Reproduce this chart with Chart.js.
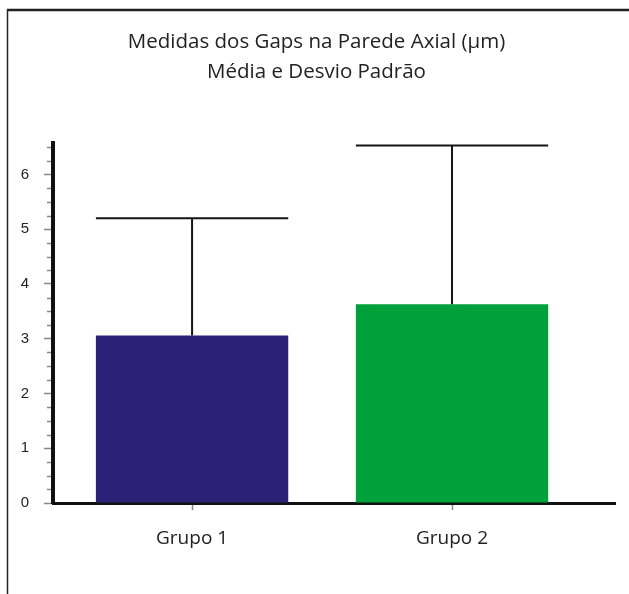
<!DOCTYPE html>
<html>
<head>
<meta charset="utf-8">
<script src="https://cdn.jsdelivr.net/npm/chart.js@4"></script>
<style>
  body { margin: 0; background: #fff; }
  canvas { display: block; }
</style>
</head>
<body>
<canvas id="chart" width="629" height="594"></canvas>
<script>
const groups = ['Grupo 1', 'Grupo 2'];
const means = [3.06, 3.63];
const sds = [2.14, 2.90];
const yTicks = [0, 1, 2, 3, 4, 5, 6];
const barColors = ['#2B2277', '#00A03A'];
const titleLines = ['Medidas dos Gaps na Parede Axial (µm)', 'Média e Desvio Padrão'];

// frame round the figure (top + left edge only, as in the scan)
const framePlugin = {
    id: 'frame',
    beforeDraw(chart) {
        const ctx = chart.ctx;
        ctx.save();
        ctx.strokeStyle = '#222';
        ctx.lineWidth = 2.5;
        ctx.beginPath();
        ctx.moveTo(7, 10);
        ctx.lineTo(629, 10);
        ctx.stroke();
        ctx.lineWidth = 1.5;
        ctx.beginPath();
        ctx.moveTo(7.5, 10);
        ctx.lineTo(7.5, 594);
        ctx.stroke();
        ctx.restore();
    }
};

// minor ticks on the y axis, every 0.25
const minorTicks = {
    id: 'minorTicks',
    afterDraw(chart) {
        const y = chart.scales.y;
        const left = chart.chartArea.left;
        const ctx = chart.ctx;
        ctx.save();
        ctx.strokeStyle = '#888';
        ctx.lineWidth = 1.5;
        yTicks.forEach(t => {
            for (let k = 1; k < 4; k++) {
                const v = t + k / 4;
                if (v > y.max) continue;
                const py = Math.round(y.getPixelForValue(v)) + 0.5;
                ctx.beginPath();
                ctx.moveTo(left - 6, py);
                ctx.lineTo(left - 2, py);
                ctx.stroke();
            }
        });
        ctx.restore();
    }
};

// upper error bars (mean + SD)
const errorBars = {
    id: 'errorBars',
    afterDatasetsDraw(chart) {
        const ctx = chart.ctx;
        const y = chart.scales.y;
        const meta = chart.getDatasetMeta(0);
        ctx.save();
        ctx.strokeStyle = '#151515';
        ctx.lineWidth = 2;
        meta.data.forEach((bar, i) => {
            const top = y.getPixelForValue(means[i] + sds[i]);
            const half = bar.width / 2;
            ctx.beginPath();
            ctx.moveTo(bar.x, bar.y);
            ctx.lineTo(bar.x, top);
            ctx.moveTo(bar.x - half, top);
            ctx.lineTo(bar.x + half, top);
            ctx.stroke();
        });
        ctx.restore();
    }
};

new Chart(document.getElementById('chart'), {
    type: 'bar',
    data: {
        datasets: [{
            data: groups.map((g, i) => ({ x: i + 1, y: means[i] })),
            backgroundColor: barColors,
            borderWidth: 0,
            categoryPercentage: 1,
            barPercentage: 0.74
        }]
    },
    options: {
        responsive: false,
        animation: false,
        layout: { padding: { left: 18, right: 14, top: 0, bottom: 0 } },
        plugins: {
            legend: { display: false },
            tooltip: { enabled: false },
            title: {
                display: true,
                text: titleLines,
                color: '#222',
                font: { family: 'Open Sans', size: 20.5, weight: 'normal', lineHeight: 1.42 },
                padding: { top: 28, bottom: 57 }
            }
        },
        scales: {
            x: {
                type: 'linear',
                offset: false,
                min: 0.465,
                max: 2.627,
                afterBuildTicks: (scale) => { scale.ticks = groups.map((g, i) => ({ value: i + 1 })); },
                afterFit: (scale) => { scale.height = 91; },
                ticks: {
                    callback: (v) => groups[v - 1] || '',
                    color: '#222',
                    font: { family: 'Open Sans', size: 19 },
                    padding: 17,
                    maxRotation: 0
                },
                grid: {
                    offset: false,
                    drawOnChartArea: false,
                    tickLength: 7,
                    tickColor: '#888',
                    tickWidth: 1.5
                },
                border: { color: '#111', width: 3 }
            },
            y: {
                min: 0,
                max: 6.57,
                afterBuildTicks: (scale) => { scale.ticks = yTicks.map(v => ({ value: v })); },
                afterFit: (scale) => { scale.width = 35; },
                ticks: {
                    color: '#222',
                    font: { family: 'Liberation Sans', size: 15 },
                    padding: 15
                },
                grid: {
                    drawOnChartArea: false,
                    tickLength: 9,
                    tickColor: '#888',
                    tickWidth: 1.5
                },
                border: { color: '#111', width: 4 }
            }
        }
    },
    plugins: [framePlugin, minorTicks, errorBars]
});
</script>
</body>
</html>
